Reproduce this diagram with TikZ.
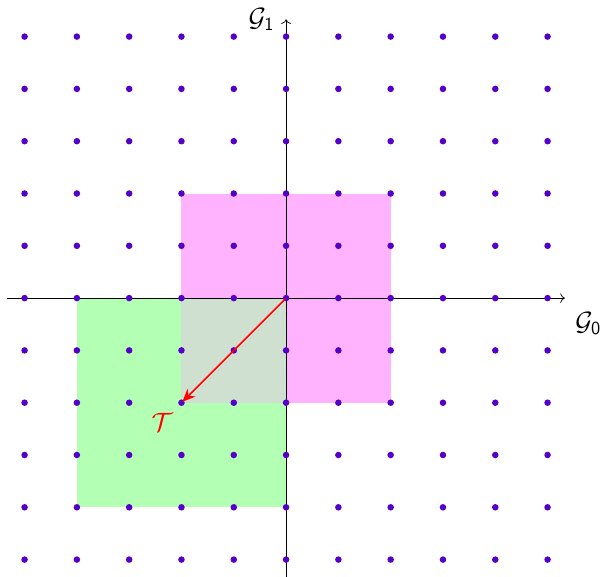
\documentclass[tikz,border=0pt]{standalone}
\usepackage{amsmath}
\usetikzlibrary{arrows.meta}
\definecolor{dotcol}{RGB}{85,0,200}
\definecolor{boxpink}{RGB}{255,179,255}
\definecolor{boxgreen}{RGB}{179,255,179}
\definecolor{boxgrey}{RGB}{208,224,208}
\begin{document}
\begin{tikzpicture}[scale=1,inner sep=0pt,outer sep=0pt,
dot/.style={draw=none,fill=dotcol,circle,minimum size=0.125cm},
lbl/.style={inner sep=1pt}]
\useasboundingbox (-5.47,-5.33) rectangle (6.06,5.70);
\fill[boxpink] (-2,-2) rectangle (2,2);
\fill[boxgreen] (-4,-4) rectangle (0,0);
\fill[boxgrey] (-2,-2) rectangle (0,0);
\draw[->] (-5.33,0) -- (5.33,0) coordinate (xend);
\draw[->] (0,-5.33) -- (0,5.33) coordinate (yend);
\foreach \i in {-5,...,5}
  \foreach \j in {-5,...,5}
    \node[dot] (p\i\j) at (\i,\j) {};
\node (o) at (0,0) {};
\node (t) at (-2,-2) {};
\draw[-{Stealth[length=7pt,width=6pt]},red,line width=0.9pt] (o) -- (t);
\node[lbl,red] (tlab) at (-2.37,-2.37) {\Large $\mathcal{T}$};
\node[lbl] (g0) at (5.78,-0.48) {\Large $\mathcal{G}_{\mathsf{0}}$};
\node[lbl] (g1) at (-0.47,5.33) {\Large $\mathcal{G}_{\mathsf{1}}$};
\end{tikzpicture}
\end{document}
